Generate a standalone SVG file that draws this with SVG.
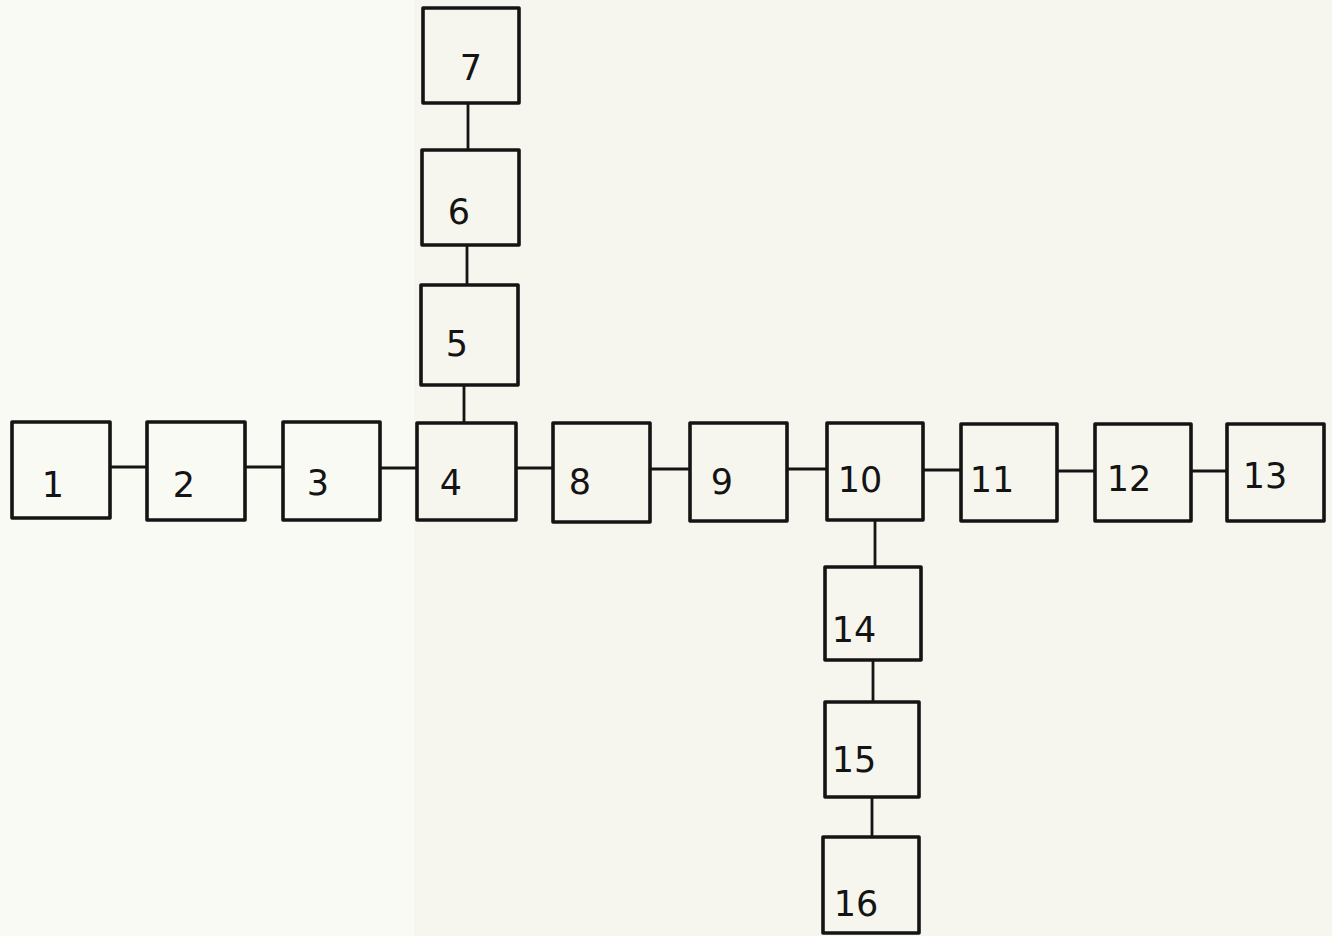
<svg xmlns="http://www.w3.org/2000/svg" width="1332" height="936" viewBox="0 0 1332 936">
<style>
.bg{fill:#f7f6ee}
.box{fill:none;stroke:#141414;stroke-width:3.6;stroke-linejoin:round}
.lbl{font-family:"DejaVu Sans","Liberation Sans",sans-serif;font-size:35px;fill:#141414;text-anchor:middle}
.con line{stroke:#141414;stroke-width:2.8}
</style>
<rect class="bg" x="0" y="0" width="1332" height="936"/>
<rect x="0" y="0" width="414" height="936" fill="#fafaf5"/>
<g class="con">
<line x1="468" y1="103" x2="468" y2="150"/>
<line x1="467" y1="245" x2="467" y2="285"/>
<line x1="464" y1="385" x2="464" y2="423"/>
<line x1="110" y1="467" x2="147" y2="467"/>
<line x1="245" y1="467" x2="283" y2="467"/>
<line x1="380" y1="468" x2="417" y2="468"/>
<line x1="516" y1="468" x2="553" y2="468"/>
<line x1="650" y1="469" x2="690" y2="469"/>
<line x1="787" y1="469" x2="827" y2="469"/>
<line x1="923" y1="470" x2="961" y2="470"/>
<line x1="1057" y1="471" x2="1095" y2="471"/>
<line x1="1191" y1="471" x2="1227" y2="471"/>
<line x1="875" y1="520" x2="875" y2="567"/>
<line x1="873" y1="660" x2="873" y2="702"/>
<line x1="872" y1="797" x2="872" y2="837"/>
</g>
<g id="n7"><rect class="box" x="423" y="8" width="96" height="95"/><text class="lbl" x="471" y="80">7</text></g>
<g id="n6"><rect class="box" x="422" y="150" width="97" height="95"/><text class="lbl" x="459" y="224">6</text></g>
<g id="n5"><rect class="box" x="421" y="285" width="97" height="100"/><text class="lbl" x="457" y="356">5</text></g>
<g id="n1"><rect class="box" x="12" y="422" width="98" height="96"/><text class="lbl" x="53" y="497">1</text></g>
<g id="n2"><rect class="box" x="147" y="422" width="98" height="98"/><text class="lbl" x="184" y="497">2</text></g>
<g id="n3"><rect class="box" x="283" y="422" width="97" height="98"/><text class="lbl" x="318" y="495">3</text></g>
<g id="n4"><rect class="box" x="417" y="423" width="99" height="97"/><text class="lbl" x="451" y="495">4</text></g>
<g id="n8"><rect class="box" x="553" y="423" width="97" height="99"/><text class="lbl" x="580" y="494">8</text></g>
<g id="n9"><rect class="box" x="690" y="423" width="97" height="98"/><text class="lbl" x="722" y="494">9</text></g>
<g id="n10"><rect class="box" x="827" y="423" width="96" height="97"/><text class="lbl" x="860" y="492">10</text></g>
<g id="n11"><rect class="box" x="961" y="424" width="96" height="97"/><text class="lbl" x="992" y="492">11</text></g>
<g id="n12"><rect class="box" x="1095" y="424" width="96" height="97"/><text class="lbl" x="1129" y="491">12</text></g>
<g id="n13"><rect class="box" x="1227" y="424" width="97" height="97"/><text class="lbl" x="1265" y="488">13</text></g>
<g id="n14"><rect class="box" x="825" y="567" width="96" height="93"/><text class="lbl" x="854" y="642">14</text></g>
<g id="n15"><rect class="box" x="825" y="702" width="94" height="95"/><text class="lbl" x="854" y="772">15</text></g>
<g id="n16"><rect class="box" x="823" y="837" width="96" height="96"/><text class="lbl" x="856" y="916">16</text></g>
</svg>
